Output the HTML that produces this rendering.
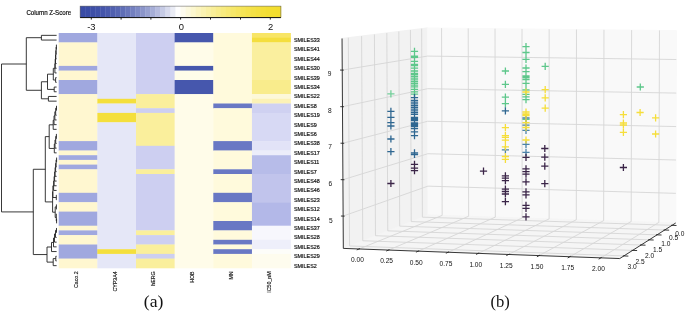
<!DOCTYPE html>
<html><head><meta charset="utf-8"><style>
html,body{margin:0;padding:0;background:#fff;}
body{width:685px;height:311px;overflow:hidden;position:relative;font-family:"Liberation Sans",sans-serif;}
</style></head><body>
<svg width="685" height="311" viewBox="0 0 685 311" style="position:absolute;left:0;top:0">
<rect x="58.7" y="33" width="38.95" height="9.7" fill="#a0a8df"/>
<rect x="58.7" y="42.4" width="38.95" height="23.8" fill="#fff7d0"/>
<rect x="58.7" y="65.9" width="38.95" height="5" fill="#a0a8df"/>
<rect x="58.7" y="70.6" width="38.95" height="9.7" fill="#fff7d0"/>
<rect x="58.7" y="80" width="38.95" height="14.4" fill="#a0a8df"/>
<rect x="58.7" y="94.1" width="38.95" height="47.3" fill="#fff7d0"/>
<rect x="58.7" y="141.1" width="38.95" height="9.7" fill="#a0a8df"/>
<rect x="58.7" y="150.5" width="38.95" height="5" fill="#fff7d0"/>
<rect x="58.7" y="155.2" width="38.95" height="5" fill="#a0a8df"/>
<rect x="58.7" y="159.9" width="38.95" height="5" fill="#fff7d0"/>
<rect x="58.7" y="164.6" width="38.95" height="5" fill="#a0a8df"/>
<rect x="58.7" y="169.3" width="38.95" height="23.8" fill="#fff7d0"/>
<rect x="58.7" y="192.8" width="38.95" height="9.7" fill="#a0a8df"/>
<rect x="58.7" y="202.2" width="38.95" height="9.7" fill="#fff7d0"/>
<rect x="58.7" y="211.6" width="38.95" height="14.4" fill="#a0a8df"/>
<rect x="58.7" y="225.7" width="38.95" height="5" fill="#fff7d0"/>
<rect x="58.7" y="230.4" width="38.95" height="5" fill="#a0a8df"/>
<rect x="58.7" y="235.1" width="38.95" height="9.7" fill="#fff7d0"/>
<rect x="58.7" y="244.5" width="38.95" height="14.4" fill="#a0a8df"/>
<rect x="58.7" y="258.6" width="38.95" height="9.7" fill="#fff7d0"/>
<rect x="97.35" y="33" width="38.95" height="66.1" fill="#e5e7f7"/>
<rect x="97.35" y="98.8" width="38.95" height="5" fill="#f4df3c"/>
<rect x="97.35" y="103.5" width="38.95" height="9.7" fill="#e5e7f7"/>
<rect x="97.35" y="112.9" width="38.95" height="9.7" fill="#f4df3c"/>
<rect x="97.35" y="122.3" width="38.95" height="127.2" fill="#e5e7f7"/>
<rect x="97.35" y="249.2" width="38.95" height="5" fill="#f4df3c"/>
<rect x="97.35" y="253.9" width="38.95" height="14.4" fill="#e5e7f7"/>
<rect x="136" y="33" width="38.95" height="61.4" fill="#cdcff1"/>
<rect x="136" y="94.1" width="38.95" height="14.4" fill="#faef9c"/>
<rect x="136" y="108.2" width="38.95" height="5" fill="#cdcff1"/>
<rect x="136" y="112.9" width="38.95" height="33.2" fill="#faef9c"/>
<rect x="136" y="145.8" width="38.95" height="23.8" fill="#cdcff1"/>
<rect x="136" y="169.3" width="38.95" height="5" fill="#faef9c"/>
<rect x="136" y="174" width="38.95" height="56.7" fill="#cdcff1"/>
<rect x="136" y="230.4" width="38.95" height="5" fill="#faef9c"/>
<rect x="136" y="235.1" width="38.95" height="9.7" fill="#cdcff1"/>
<rect x="136" y="244.5" width="38.95" height="9.7" fill="#faef9c"/>
<rect x="136" y="253.9" width="38.95" height="5" fill="#cdcff1"/>
<rect x="136" y="258.6" width="38.95" height="9.7" fill="#faef9c"/>
<rect x="174.65" y="33" width="38.95" height="9.7" fill="#4657ad"/>
<rect x="174.65" y="42.4" width="38.95" height="23.8" fill="#fffce9"/>
<rect x="174.65" y="65.9" width="38.95" height="5" fill="#4657ad"/>
<rect x="174.65" y="70.6" width="38.95" height="9.7" fill="#fffce9"/>
<rect x="174.65" y="80" width="38.95" height="14.4" fill="#4657ad"/>
<rect x="174.65" y="94.1" width="38.95" height="174.2" fill="#fffce9"/>
<rect x="213.3" y="33" width="38.95" height="70.8" fill="#fffadc"/>
<rect x="213.3" y="103.5" width="38.95" height="5" fill="#6978c4"/>
<rect x="213.3" y="108.2" width="38.95" height="33.2" fill="#fffadc"/>
<rect x="213.3" y="141.1" width="38.95" height="9.7" fill="#6978c4"/>
<rect x="213.3" y="150.5" width="38.95" height="19.1" fill="#fffadc"/>
<rect x="213.3" y="169.3" width="38.95" height="5" fill="#6978c4"/>
<rect x="213.3" y="174" width="38.95" height="19.1" fill="#fffadc"/>
<rect x="213.3" y="192.8" width="38.95" height="9.7" fill="#6978c4"/>
<rect x="213.3" y="202.2" width="38.95" height="19.1" fill="#fffadc"/>
<rect x="213.3" y="221" width="38.95" height="9.7" fill="#6978c4"/>
<rect x="213.3" y="230.4" width="38.95" height="9.7" fill="#fffadc"/>
<rect x="213.3" y="239.8" width="38.95" height="5" fill="#6978c4"/>
<rect x="213.3" y="244.5" width="38.95" height="5" fill="#fffadc"/>
<rect x="213.3" y="249.2" width="38.95" height="5" fill="#6978c4"/>
<rect x="213.3" y="253.9" width="38.95" height="14.4" fill="#fffadc"/>
<rect x="251.95" y="33" width="38.95" height="5" fill="#f8e566"/>
<rect x="251.95" y="37.7" width="38.95" height="5" fill="#f4de3e"/>
<rect x="251.95" y="42.4" width="38.95" height="37.9" fill="#faef9e"/>
<rect x="251.95" y="80" width="38.95" height="14.4" fill="#f9ec8c"/>
<rect x="251.95" y="94.1" width="38.95" height="5" fill="#fdf8d9"/>
<rect x="251.95" y="98.8" width="38.95" height="5" fill="#fcf2b6"/>
<rect x="251.95" y="103.5" width="38.95" height="9.7" fill="#cfd1f1"/>
<rect x="251.95" y="112.9" width="38.95" height="28.5" fill="#d7d9f4"/>
<rect x="251.95" y="141.1" width="38.95" height="9.7" fill="#e2e3f7"/>
<rect x="251.95" y="150.5" width="38.95" height="5" fill="#ecedfa"/>
<rect x="251.95" y="155.2" width="38.95" height="19.1" fill="#b7bce9"/>
<rect x="251.95" y="174" width="38.95" height="28.5" fill="#c1c4ec"/>
<rect x="251.95" y="202.2" width="38.95" height="23.8" fill="#b3b8e8"/>
<rect x="251.95" y="225.7" width="38.95" height="14.4" fill="#f7f7fd"/>
<rect x="251.95" y="239.8" width="38.95" height="9.7" fill="#eeeffa"/>
<rect x="251.95" y="249.2" width="38.95" height="5" fill="#fdfdf9"/>
<rect x="251.95" y="253.9" width="38.95" height="14.4" fill="#fefcee"/>
</svg>
<svg width="685" height="311" style="position:absolute;left:0;top:0"><path d="M41.4 35.35L41.4 40.05M41.4 35.35L56.6 35.35M41.4 40.05L56.6 40.05M56.4 44.75L56.4 49.45M56.4 44.75L56.6 44.75M56.4 49.45L56.6 49.45M56.1 47.1L56.1 54.15M56.1 47.1L56.4 47.1M56.1 54.15L56.6 54.15M55.8 50.62L55.8 58.85M55.8 50.62L56.1 50.62M55.8 58.85L56.6 58.85M55.5 54.74L55.5 63.55M55.5 54.74L55.8 54.74M55.5 63.55L56.6 63.55M55.2 59.14L55.2 68.25M55.2 59.14L55.5 59.14M55.2 68.25L56.6 68.25M54.9 63.7L54.9 72.95M54.9 63.7L55.2 63.7M54.9 72.95L56.6 72.95M55.6 77.65L55.6 82.35M55.6 77.65L56.6 77.65M55.6 82.35L56.6 82.35M53.3 68.32L53.3 80M53.3 68.32L54.9 68.32M53.3 80L55.6 80M54.2 87.05L54.2 91.75M54.2 87.05L56.6 87.05M54.2 91.75L56.6 91.75M47.5 74.16L47.5 89.4M47.5 74.16L53.3 74.16M47.5 89.4L54.2 89.4M48.4 96.45L48.4 101.15M48.4 96.45L56.6 96.45M48.4 101.15L56.6 101.15M41.4 81.78L41.4 98.8M41.4 81.78L47.5 81.78M41.4 98.8L48.4 98.8M26.3 37.7L26.3 90.29M26.3 37.7L41.4 37.7M26.3 90.29L41.4 90.29M56.5 105.85L56.5 110.55M56.5 105.85L56.6 105.85M56.5 110.55L56.6 110.55M55.67 108.2L55.67 115.25M55.67 108.2L56.5 108.2M55.67 115.25L56.6 115.25M54.85 111.72L54.85 119.95M54.85 111.72L55.67 111.72M54.85 119.95L56.6 119.95M54.03 115.84L54.03 124.65M54.03 115.84L54.85 115.84M54.03 124.65L56.6 124.65M53.2 120.24L53.2 129.35M53.2 120.24L54.03 120.24M53.2 129.35L56.6 129.35M56.4 134.05L56.4 138.75M56.4 134.05L56.6 134.05M56.4 138.75L56.6 138.75M55.7 136.4L55.7 143.45M55.7 136.4L56.4 136.4M55.7 143.45L56.6 143.45M55 139.93L55 148.15M55 139.93L55.7 139.93M55 148.15L56.6 148.15M54.3 144.04L54.3 152.85M54.3 144.04L55 144.04M54.3 152.85L56.6 152.85M49.2 124.8L49.2 148.44M49.2 124.8L53.2 124.8M49.2 148.44L54.3 148.44M56.6 157.55L56.6 162.25M56.6 157.55L56.6 157.55M56.6 162.25L56.6 162.25M56.1 159.9L56.1 166.95M56.1 159.9L56.6 159.9M56.1 166.95L56.6 166.95M55.6 163.43L55.6 171.65M55.6 163.43L56.1 163.43M55.6 171.65L56.6 171.65M55.1 167.54L55.1 176.35M55.1 167.54L55.6 167.54M55.1 176.35L56.6 176.35M54.6 171.94L54.6 181.05M54.6 171.94L55.1 171.94M54.6 181.05L56.6 181.05M54.1 176.5L54.1 185.75M54.1 176.5L54.6 176.5M54.1 185.75L56.6 185.75M53.6 181.12L53.6 190.45M53.6 181.12L54.1 181.12M53.6 190.45L56.6 190.45M56.3 195.15L56.3 199.85M56.3 195.15L56.6 195.15M56.3 199.85L56.6 199.85M52.9 185.79L52.9 197.5M52.9 185.79L53.6 185.79M52.9 197.5L56.3 197.5M56.4 204.55L56.4 209.25M56.4 204.55L56.6 204.55M56.4 209.25L56.6 209.25M56.6 218.65L56.6 223.35M56.6 218.65L56.6 218.65M56.6 223.35L56.6 223.35M56.3 213.95L56.3 221M56.3 213.95L56.6 213.95M56.3 221L56.6 221M55.2 206.9L55.2 217.48M55.2 206.9L56.4 206.9M55.2 217.48L56.3 217.48M52.6 191.64L52.6 212.19M52.6 191.64L52.9 191.64M52.6 212.19L55.2 212.19M45.3 136.62L45.3 201.92M45.3 136.62L49.2 136.62M45.3 201.92L52.6 201.92M56.5 228.05L56.5 232.75M56.5 228.05L56.6 228.05M56.5 232.75L56.6 232.75M55.5 230.4L55.5 237.45M55.5 230.4L56.5 230.4M55.5 237.45L56.6 237.45M54.5 233.93L54.5 242.15M54.5 233.93L55.5 233.93M54.5 242.15L56.6 242.15M53.5 238.04L53.5 246.85M53.5 238.04L54.5 238.04M53.5 246.85L56.6 246.85M51.5 242.44L51.5 251.55M51.5 242.44L53.5 242.44M51.5 251.55L56.6 251.55M55.8 256.25L55.8 260.95M55.8 256.25L56.6 256.25M55.8 260.95L56.6 260.95M53.2 258.6L53.2 265.65M53.2 258.6L55.8 258.6M53.2 265.65L56.6 265.65M47 247L47 262.12M47 247L51.5 247M47 262.12L53.2 262.12M33.3 169.27L33.3 254.56M33.3 169.27L45.3 169.27M33.3 254.56L47 254.56M1.5 64L1.5 211.91M1.5 64L26.3 64M1.5 211.91L33.3 211.91" stroke="#222" stroke-width="0.9" fill="none"/></svg>
<svg width="685" height="311" style="position:absolute;left:0;top:0">
<rect x="80.1" y="6.1" width="5.32" height="11.5" fill="rgb(58, 76, 166)"/>
<rect x="85.12" y="6.1" width="5.32" height="11.5" fill="rgb(59, 77, 167)"/>
<rect x="90.14" y="6.1" width="5.32" height="11.5" fill="rgb(61, 79, 167)"/>
<rect x="95.16" y="6.1" width="5.32" height="11.5" fill="rgb(64, 82, 169)"/>
<rect x="100.18" y="6.1" width="5.32" height="11.5" fill="rgb(68, 85, 171)"/>
<rect x="105.2" y="6.1" width="5.32" height="11.5" fill="rgb(74, 90, 173)"/>
<rect x="110.22" y="6.1" width="5.32" height="11.5" fill="rgb(80, 96, 176)"/>
<rect x="115.24" y="6.1" width="5.32" height="11.5" fill="rgb(87, 102, 179)"/>
<rect x="120.26" y="6.1" width="5.32" height="11.5" fill="rgb(95, 110, 183)"/>
<rect x="125.28" y="6.1" width="5.32" height="11.5" fill="rgb(105, 118, 187)"/>
<rect x="130.3" y="6.1" width="5.32" height="11.5" fill="rgb(115, 128, 192)"/>
<rect x="135.32" y="6.1" width="5.32" height="11.5" fill="rgb(126, 138, 197)"/>
<rect x="140.34" y="6.1" width="5.32" height="11.5" fill="rgb(139, 149, 202)"/>
<rect x="145.36" y="6.1" width="5.32" height="11.5" fill="rgb(152, 161, 208)"/>
<rect x="150.38" y="6.1" width="5.32" height="11.5" fill="rgb(166, 174, 215)"/>
<rect x="155.4" y="6.1" width="5.32" height="11.5" fill="rgb(182, 188, 222)"/>
<rect x="160.42" y="6.1" width="5.32" height="11.5" fill="rgb(198, 203, 229)"/>
<rect x="165.44" y="6.1" width="5.32" height="11.5" fill="rgb(216, 219, 237)"/>
<rect x="170.46" y="6.1" width="5.32" height="11.5" fill="rgb(234, 236, 245)"/>
<rect x="175.48" y="6.1" width="5.32" height="11.5" fill="rgb(254, 254, 254)"/>
<rect x="180.5" y="6.1" width="5.32" height="11.5" fill="rgb(253, 251, 238)"/>
<rect x="185.52" y="6.1" width="5.32" height="11.5" fill="rgb(252, 249, 222)"/>
<rect x="190.54" y="6.1" width="5.32" height="11.5" fill="rgb(252, 247, 207)"/>
<rect x="195.56" y="6.1" width="5.32" height="11.5" fill="rgb(251, 244, 192)"/>
<rect x="200.58" y="6.1" width="5.32" height="11.5" fill="rgb(250, 242, 178)"/>
<rect x="205.6" y="6.1" width="5.32" height="11.5" fill="rgb(249, 240, 165)"/>
<rect x="210.62" y="6.1" width="5.32" height="11.5" fill="rgb(249, 238, 152)"/>
<rect x="215.64" y="6.1" width="5.32" height="11.5" fill="rgb(248, 236, 139)"/>
<rect x="220.66" y="6.1" width="5.32" height="11.5" fill="rgb(247, 234, 127)"/>
<rect x="225.68" y="6.1" width="5.32" height="11.5" fill="rgb(247, 232, 116)"/>
<rect x="230.7" y="6.1" width="5.32" height="11.5" fill="rgb(246, 231, 105)"/>
<rect x="235.72" y="6.1" width="5.32" height="11.5" fill="rgb(246, 229, 95)"/>
<rect x="240.74" y="6.1" width="5.32" height="11.5" fill="rgb(245, 228, 86)"/>
<rect x="245.76" y="6.1" width="5.32" height="11.5" fill="rgb(245, 226, 77)"/>
<rect x="250.78" y="6.1" width="5.32" height="11.5" fill="rgb(244, 225, 70)"/>
<rect x="255.8" y="6.1" width="5.32" height="11.5" fill="rgb(244, 224, 63)"/>
<rect x="260.82" y="6.1" width="5.32" height="11.5" fill="rgb(244, 223, 56)"/>
<rect x="265.84" y="6.1" width="5.32" height="11.5" fill="rgb(243, 222, 51)"/>
<rect x="270.86" y="6.1" width="5.32" height="11.5" fill="rgb(243, 222, 47)"/>
<rect x="275.88" y="6.1" width="5.32" height="11.5" fill="rgb(243, 221, 45)"/>
<rect x="80.1" y="6.1" width="200.8" height="11.5" fill="none" stroke="#555" stroke-width="0.5"/>
<line x1="80.1" y1="17.6" x2="280.9" y2="17.6" stroke="#111" stroke-width="1"/>
<line x1="91.3" y1="17.6" x2="91.3" y2="19.6" stroke="#111" stroke-width="0.9"/>
<line x1="121.1" y1="17.6" x2="121.1" y2="19.6" stroke="#111" stroke-width="0.9"/>
<line x1="150.9" y1="17.6" x2="150.9" y2="19.6" stroke="#111" stroke-width="0.9"/>
<line x1="180.6" y1="17.6" x2="180.6" y2="19.6" stroke="#111" stroke-width="0.9"/>
<line x1="210.5" y1="17.6" x2="210.5" y2="19.6" stroke="#111" stroke-width="0.9"/>
<line x1="240.5" y1="17.6" x2="240.5" y2="19.6" stroke="#111" stroke-width="0.9"/>
<line x1="270.3" y1="17.6" x2="270.3" y2="19.6" stroke="#111" stroke-width="0.9"/>
</svg>
<svg width="685" height="311" style="position:absolute;left:0;top:0">
<polygon points="428.03,214.94 343.33,248.4 342.05,38.48 427.35,27.96" fill="#f2f2f2" stroke="#f2f2f2" stroke-width="1"/>
<polygon points="428.03,214.94 675.73,222.98 676.46,30.57 427.35,27.96" fill="#f9f9f9" stroke="#f9f9f9" stroke-width="1"/>
<polygon points="428.03,214.94 675.73,222.98 619.73,258.56 343.33,248.4" fill="#f5f5f5" stroke="#f5f5f5" stroke-width="1"/>
<line x1="442.16" y1="215.4" x2="359.05" y2="248.98" stroke="#d6d6d6" stroke-width="0.9"/>
<line x1="442.16" y1="215.4" x2="441.57" y2="28.1" stroke="#d6d6d6" stroke-width="0.9"/>
<line x1="468.66" y1="216.26" x2="388.54" y2="250.06" stroke="#d6d6d6" stroke-width="0.9"/>
<line x1="468.66" y1="216.26" x2="468.21" y2="28.38" stroke="#d6d6d6" stroke-width="0.9"/>
<line x1="495.32" y1="217.13" x2="418.23" y2="251.16" stroke="#d6d6d6" stroke-width="0.9"/>
<line x1="495.32" y1="217.13" x2="495.02" y2="28.67" stroke="#d6d6d6" stroke-width="0.9"/>
<line x1="522.15" y1="218" x2="448.12" y2="252.25" stroke="#d6d6d6" stroke-width="0.9"/>
<line x1="522.15" y1="218" x2="522" y2="28.95" stroke="#d6d6d6" stroke-width="0.9"/>
<line x1="549.14" y1="218.87" x2="478.23" y2="253.36" stroke="#d6d6d6" stroke-width="0.9"/>
<line x1="549.14" y1="218.87" x2="549.15" y2="29.23" stroke="#d6d6d6" stroke-width="0.9"/>
<line x1="576.31" y1="219.75" x2="508.56" y2="254.47" stroke="#d6d6d6" stroke-width="0.9"/>
<line x1="576.31" y1="219.75" x2="576.47" y2="29.52" stroke="#d6d6d6" stroke-width="0.9"/>
<line x1="603.65" y1="220.64" x2="539.09" y2="255.6" stroke="#d6d6d6" stroke-width="0.9"/>
<line x1="603.65" y1="220.64" x2="603.96" y2="29.81" stroke="#d6d6d6" stroke-width="0.9"/>
<line x1="631.16" y1="221.53" x2="569.85" y2="256.72" stroke="#d6d6d6" stroke-width="0.9"/>
<line x1="631.16" y1="221.53" x2="631.63" y2="30.1" stroke="#d6d6d6" stroke-width="0.9"/>
<line x1="658.85" y1="222.43" x2="600.83" y2="257.86" stroke="#d6d6d6" stroke-width="0.9"/>
<line x1="658.85" y1="222.43" x2="659.48" y2="30.39" stroke="#d6d6d6" stroke-width="0.9"/>
<line x1="422.38" y1="217.17" x2="672.01" y2="225.34" stroke="#d6d6d6" stroke-width="0.9"/>
<line x1="422.38" y1="217.17" x2="421.67" y2="28.66" stroke="#d6d6d6" stroke-width="0.9"/>
<line x1="411.22" y1="221.58" x2="664.65" y2="230.02" stroke="#d6d6d6" stroke-width="0.9"/>
<line x1="411.22" y1="221.58" x2="410.43" y2="30.04" stroke="#d6d6d6" stroke-width="0.9"/>
<line x1="399.69" y1="226.14" x2="657.04" y2="234.85" stroke="#d6d6d6" stroke-width="0.9"/>
<line x1="399.69" y1="226.14" x2="398.83" y2="31.47" stroke="#d6d6d6" stroke-width="0.9"/>
<line x1="387.78" y1="230.84" x2="649.17" y2="239.85" stroke="#d6d6d6" stroke-width="0.9"/>
<line x1="387.78" y1="230.84" x2="386.84" y2="32.95" stroke="#d6d6d6" stroke-width="0.9"/>
<line x1="375.47" y1="235.71" x2="641.03" y2="245.03" stroke="#d6d6d6" stroke-width="0.9"/>
<line x1="375.47" y1="235.71" x2="374.43" y2="34.48" stroke="#d6d6d6" stroke-width="0.9"/>
<line x1="362.74" y1="240.74" x2="632.6" y2="250.38" stroke="#d6d6d6" stroke-width="0.9"/>
<line x1="362.74" y1="240.74" x2="361.6" y2="36.07" stroke="#d6d6d6" stroke-width="0.9"/>
<line x1="349.56" y1="245.94" x2="623.86" y2="255.93" stroke="#d6d6d6" stroke-width="0.9"/>
<line x1="349.56" y1="245.94" x2="348.32" y2="37.71" stroke="#d6d6d6" stroke-width="0.9"/>
<line x1="427.92" y1="186.15" x2="343.14" y2="216.09" stroke="#d6d6d6" stroke-width="0.9"/>
<line x1="427.92" y1="186.15" x2="675.85" y2="193.35" stroke="#d6d6d6" stroke-width="0.9"/>
<line x1="427.81" y1="153.73" x2="342.91" y2="179.71" stroke="#d6d6d6" stroke-width="0.9"/>
<line x1="427.81" y1="153.73" x2="675.97" y2="159.99" stroke="#d6d6d6" stroke-width="0.9"/>
<line x1="427.69" y1="121.25" x2="342.69" y2="143.25" stroke="#d6d6d6" stroke-width="0.9"/>
<line x1="427.69" y1="121.25" x2="676.1" y2="126.57" stroke="#d6d6d6" stroke-width="0.9"/>
<line x1="427.57" y1="88.7" x2="342.46" y2="106.71" stroke="#d6d6d6" stroke-width="0.9"/>
<line x1="427.57" y1="88.7" x2="676.23" y2="93.08" stroke="#d6d6d6" stroke-width="0.9"/>
<line x1="427.45" y1="56.09" x2="342.24" y2="70.09" stroke="#d6d6d6" stroke-width="0.9"/>
<line x1="427.45" y1="56.09" x2="676.35" y2="59.52" stroke="#d6d6d6" stroke-width="0.9"/>
<line x1="343.33" y1="248.4" x2="619.73" y2="258.56" stroke="#222" stroke-width="0.9"/>
<line x1="619.73" y1="258.56" x2="675.73" y2="222.98" stroke="#222" stroke-width="0.9"/>
<line x1="343.33" y1="248.4" x2="342.05" y2="38.48" stroke="#222" stroke-width="0.9"/>
<line x1="359.98" y1="248.61" x2="356.73" y2="249.92" stroke="#222" stroke-width="0.9"/>
<line x1="389.46" y1="249.68" x2="386.23" y2="251.04" stroke="#222" stroke-width="0.9"/>
<line x1="419.14" y1="250.75" x2="415.94" y2="252.16" stroke="#222" stroke-width="0.9"/>
<line x1="449.03" y1="251.83" x2="445.86" y2="253.3" stroke="#222" stroke-width="0.9"/>
<line x1="479.13" y1="252.92" x2="475.99" y2="254.45" stroke="#222" stroke-width="0.9"/>
<line x1="509.45" y1="254.02" x2="506.33" y2="255.61" stroke="#222" stroke-width="0.9"/>
<line x1="539.97" y1="255.12" x2="536.9" y2="256.79" stroke="#222" stroke-width="0.9"/>
<line x1="570.72" y1="256.23" x2="567.68" y2="257.97" stroke="#222" stroke-width="0.9"/>
<line x1="601.68" y1="257.34" x2="598.69" y2="259.17" stroke="#222" stroke-width="0.9"/>
<line x1="671.01" y1="225.31" x2="676.51" y2="225.49" stroke="#222" stroke-width="0.9"/>
<line x1="663.65" y1="229.99" x2="669.15" y2="230.17" stroke="#222" stroke-width="0.9"/>
<line x1="656.04" y1="234.82" x2="661.54" y2="235.01" stroke="#222" stroke-width="0.9"/>
<line x1="648.18" y1="239.82" x2="653.67" y2="240.01" stroke="#222" stroke-width="0.9"/>
<line x1="640.03" y1="244.99" x2="645.53" y2="245.18" stroke="#222" stroke-width="0.9"/>
<line x1="631.6" y1="250.35" x2="637.1" y2="250.54" stroke="#222" stroke-width="0.9"/>
<line x1="622.86" y1="255.9" x2="628.36" y2="256.1" stroke="#222" stroke-width="0.9"/>
<line x1="344.63" y1="216.14" x2="340.94" y2="216.02" stroke="#222" stroke-width="0.9"/>
<line x1="344.41" y1="179.75" x2="340.71" y2="179.65" stroke="#222" stroke-width="0.9"/>
<line x1="344.19" y1="143.29" x2="340.49" y2="143.2" stroke="#222" stroke-width="0.9"/>
<line x1="343.96" y1="106.74" x2="340.27" y2="106.66" stroke="#222" stroke-width="0.9"/>
<line x1="343.74" y1="70.11" x2="340.04" y2="70.05" stroke="#222" stroke-width="0.9"/>
</svg>
<svg width="685" height="311" style="position:absolute;left:0;top:0">
<path d="M387.3 93.9h7.2M390.9 90.3v7.2" stroke="#74cf9b" stroke-width="1.3" fill="none"/>
<path d="M410.9 51.3h7.2M414.5 47.7v7.2M410.9 56.1h7.2M414.5 52.5v7.2M410.9 57.3h7.2M414.5 53.7v7.2M410.9 61.4h7.2M414.5 57.8v7.2M410.9 64.3h7.2M414.5 60.7v7.2M410.9 65.7h7.2M414.5 62.1v7.2M410.9 68.1h7.2M414.5 64.5v7.2M410.9 71h7.2M414.5 67.4v7.2M410.9 73.4h7.2M414.5 69.8v7.2M410.9 74.6h7.2M414.5 71v7.2M410.9 76.35h7.2M414.5 72.75v7.2M410.9 78.1h7.2M414.5 74.5v7.2M410.9 79.85h7.2M414.5 76.25v7.2M410.9 81.6h7.2M414.5 78v7.2M410.9 83.35h7.2M414.5 79.75v7.2M410.9 85.1h7.2M414.5 81.5v7.2M410.9 86.85h7.2M414.5 83.25v7.2M410.9 89.4h7.2M414.5 85.8v7.2M410.9 91.8h7.2M414.5 88.2v7.2M410.9 94.2h7.2M414.5 90.6v7.2M501.8 71h7.2M505.4 67.4v7.2M501.8 84.4h7.2M505.4 80.8v7.2M501.8 97.2h7.2M505.4 93.6v7.2M501.8 103.6h7.2M505.4 100v7.2M522.4 46.6h7.2M526 43v7.2M522.4 52.5h7.2M526 48.9v7.2M522.4 59.3h7.2M526 55.7v7.2M522.4 68h7.2M526 64.4v7.2M522.4 71.6h7.2M526 68v7.2M522.4 76h7.2M526 72.4v7.2M522.4 77.5h7.2M526 73.9v7.2M522.4 79.5h7.2M526 75.9v7.2M522.4 83.3h7.2M526 79.7v7.2M522.4 89.9h7.2M526 86.3v7.2M522.4 94.3h7.2M526 90.7v7.2M522.4 96.8h7.2M526 93.2v7.2M522.4 99.6h7.2M526 96v7.2M522.4 119.3h7.2M526 115.7v7.2M541.6 66.4h7.2M545.2 62.8v7.2M636.7 87h7.2M640.3 83.4v7.2" stroke="#5ec78b" stroke-width="1.3" fill="none"/>
<path d="M387.3 111.4h7.2M390.9 107.8v7.2M387.3 117.4h7.2M390.9 113.8v7.2M387.3 122.7h7.2M390.9 119.1v7.2M387.3 126h7.2M390.9 122.4v7.2M387.3 139h7.2M390.9 135.4v7.2M387.3 151.7h7.2M390.9 148.1v7.2M410.9 97.6h7.2M414.5 94v7.2M410.9 100.3h7.2M414.5 96.7v7.2M410.9 102.05h7.2M414.5 98.45v7.2M410.9 103.8h7.2M414.5 100.2v7.2M410.9 105.55h7.2M414.5 101.95v7.2M410.9 107.3h7.2M414.5 103.7v7.2M410.9 109.05h7.2M414.5 105.45v7.2M410.9 110.8h7.2M414.5 107.2v7.2M410.9 112.55h7.2M414.5 108.95v7.2M410.9 114.3h7.2M414.5 110.7v7.2M410.9 117.5h7.2M414.5 113.9v7.2M410.9 118.5h7.2M414.5 114.9v7.2M410.9 119.5h7.2M414.5 115.9v7.2M410.9 120.5h7.2M414.5 116.9v7.2M410.9 123h7.2M414.5 119.4v7.2M410.9 124h7.2M414.5 120.4v7.2M410.9 125h7.2M414.5 121.4v7.2M410.9 126.5h7.2M414.5 122.9v7.2M410.9 128.7h7.2M414.5 125.1v7.2M410.9 131.8h7.2M414.5 128.2v7.2M410.9 135.6h7.2M414.5 132v7.2M410.9 152.8h7.2M414.5 149.2v7.2M410.9 154.5h7.2M414.5 150.9v7.2M501.8 110.8h7.2M505.4 107.2v7.2" stroke="#2f6791" stroke-width="1.3" fill="none"/>
<path d="M501.8 149.8h7.2M505.4 146.2v7.2M522.4 118h7.2M526 114.4v7.2M522.4 125.1h7.2M526 121.5v7.2M522.4 130.4h7.2M526 126.8v7.2M522.4 144.3h7.2M526 140.7v7.2M522.4 152.3h7.2M526 148.7v7.2" stroke="#4a82a8" stroke-width="1.3" fill="none"/>
<path d="M501.8 127.7h7.2M505.4 124.1v7.2M501.8 135.6h7.2M505.4 132v7.2M501.8 137.3h7.2M505.4 133.7v7.2M501.8 140.2h7.2M505.4 136.6v7.2M501.8 146.9h7.2M505.4 143.3v7.2M501.8 156.5h7.2M505.4 152.9v7.2M501.8 159.4h7.2M505.4 155.8v7.2M522.4 92h7.2M526 88.4v7.2M522.4 112h7.2M526 108.4v7.2M522.4 114h7.2M526 110.4v7.2M522.4 115.5h7.2M526 111.9v7.2M522.4 122.7h7.2M526 119.1v7.2M522.4 127.5h7.2M526 123.9v7.2M522.4 140h7.2M526 136.4v7.2M541.6 89.6h7.2M545.2 86v7.2M541.6 97.8h7.2M545.2 94.2v7.2M541.6 108.1h7.2M545.2 104.5v7.2M619.8 114.6h7.2M623.4 111v7.2M619.8 123h7.2M623.4 119.4v7.2M619.8 125h7.2M623.4 121.4v7.2M619.8 132.4h7.2M623.4 128.8v7.2M636.5 112.5h7.2M640.1 108.9v7.2M652 117.9h7.2M655.6 114.3v7.2M652 134h7.2M655.6 130.4v7.2" stroke="#f6de3a" stroke-width="1.3" fill="none"/>
<path d="M387.3 183.5h7.2M390.9 179.9v7.2M410.9 164.4h7.2M414.5 160.8v7.2M410.9 168.2h7.2M414.5 164.6v7.2M410.9 170.7h7.2M414.5 167.1v7.2M501.8 175.8h7.2M505.4 172.2v7.2M501.8 178.1h7.2M505.4 174.5v7.2M501.8 180.6h7.2M505.4 177v7.2M501.8 189.2h7.2M505.4 185.6v7.2M501.8 191.5h7.2M505.4 187.9v7.2M501.8 194h7.2M505.4 190.4v7.2M501.8 201.7h7.2M505.4 198.1v7.2M522.4 157.4h7.2M526 153.8v7.2M522.4 168.9h7.2M526 165.3v7.2M522.4 171.7h7.2M526 168.1v7.2M522.4 174.2h7.2M526 170.6v7.2M522.4 181.9h7.2M526 178.3v7.2M522.4 191.9h7.2M526 188.3v7.2M522.4 194.8h7.2M526 191.2v7.2M522.4 205.4h7.2M526 201.8v7.2M522.4 208.3h7.2M526 204.7v7.2M522.4 216.9h7.2M526 213.3v7.2M541.2 148.5h7.2M544.8 144.9v7.2M541.2 157.1h7.2M544.8 153.5v7.2M541.2 166.1h7.2M544.8 162.5v7.2M541.2 183.7h7.2M544.8 180.1v7.2M619.8 167.5h7.2M623.4 163.9v7.2M479.9 171.2h7.2M483.5 167.6v7.2" stroke="#3b2548" stroke-width="1.3" fill="none"/>
</svg>
<svg width="685" height="311" style="position:absolute;left:0;top:0;will-change:transform" font-family="Liberation Sans, sans-serif"><text x="294" y="41.95" font-size="5.4" text-anchor="start" fill="#111" stroke="#111" stroke-width="0.18">SMILES33</text>
<text x="294" y="51.35" font-size="5.4" text-anchor="start" fill="#111" stroke="#111" stroke-width="0.18">SMILES41</text>
<text x="294" y="60.75" font-size="5.4" text-anchor="start" fill="#111" stroke="#111" stroke-width="0.18">SMILES44</text>
<text x="294" y="70.15" font-size="5.4" text-anchor="start" fill="#111" stroke="#111" stroke-width="0.18">SMILES30</text>
<text x="294" y="79.55" font-size="5.4" text-anchor="start" fill="#111" stroke="#111" stroke-width="0.18">SMILES39</text>
<text x="294" y="88.95" font-size="5.4" text-anchor="start" fill="#111" stroke="#111" stroke-width="0.18">SMILES34</text>
<text x="294" y="98.35" font-size="5.4" text-anchor="start" fill="#111" stroke="#111" stroke-width="0.18">SMILES22</text>
<text x="294" y="107.75" font-size="5.4" text-anchor="start" fill="#111" stroke="#111" stroke-width="0.18">SMILES8</text>
<text x="294" y="117.15" font-size="5.4" text-anchor="start" fill="#111" stroke="#111" stroke-width="0.18">SMILES19</text>
<text x="294" y="126.55" font-size="5.4" text-anchor="start" fill="#111" stroke="#111" stroke-width="0.18">SMILES9</text>
<text x="294" y="135.95" font-size="5.4" text-anchor="start" fill="#111" stroke="#111" stroke-width="0.18">SMILES6</text>
<text x="294" y="145.35" font-size="5.4" text-anchor="start" fill="#111" stroke="#111" stroke-width="0.18">SMILES38</text>
<text x="294" y="154.75" font-size="5.4" text-anchor="start" fill="#111" stroke="#111" stroke-width="0.18">SMILES17</text>
<text x="294" y="164.15" font-size="5.4" text-anchor="start" fill="#111" stroke="#111" stroke-width="0.18">SMILES11</text>
<text x="294" y="173.55" font-size="5.4" text-anchor="start" fill="#111" stroke="#111" stroke-width="0.18">SMILES7</text>
<text x="294" y="182.95" font-size="5.4" text-anchor="start" fill="#111" stroke="#111" stroke-width="0.18">SMILES48</text>
<text x="294" y="192.35" font-size="5.4" text-anchor="start" fill="#111" stroke="#111" stroke-width="0.18">SMILES46</text>
<text x="294" y="201.75" font-size="5.4" text-anchor="start" fill="#111" stroke="#111" stroke-width="0.18">SMILES23</text>
<text x="294" y="211.15" font-size="5.4" text-anchor="start" fill="#111" stroke="#111" stroke-width="0.18">SMILES12</text>
<text x="294" y="220.55" font-size="5.4" text-anchor="start" fill="#111" stroke="#111" stroke-width="0.18">SMILES14</text>
<text x="294" y="229.95" font-size="5.4" text-anchor="start" fill="#111" stroke="#111" stroke-width="0.18">SMILES37</text>
<text x="294" y="239.35" font-size="5.4" text-anchor="start" fill="#111" stroke="#111" stroke-width="0.18">SMILES28</text>
<text x="294" y="248.75" font-size="5.4" text-anchor="start" fill="#111" stroke="#111" stroke-width="0.18">SMILES26</text>
<text x="294" y="258.15" font-size="5.4" text-anchor="start" fill="#111" stroke="#111" stroke-width="0.18">SMILES29</text>
<text x="294" y="267.55" font-size="5.4" text-anchor="start" fill="#111" stroke="#111" stroke-width="0.18">SMILES2</text>
<text transform="translate(77.98,271.4) rotate(-90)" font-size="5.25" text-anchor="end" fill="#111" stroke="#111" stroke-width="0.15">Caco.2</text>
<text transform="translate(116.63,271.4) rotate(-90)" font-size="5.25" text-anchor="end" fill="#111" stroke="#111" stroke-width="0.15">CYP3A4</text>
<text transform="translate(155.28,271.4) rotate(-90)" font-size="5.25" text-anchor="end" fill="#111" stroke="#111" stroke-width="0.15">hERG</text>
<text transform="translate(193.93,271.4) rotate(-90)" font-size="5.25" text-anchor="end" fill="#111" stroke="#111" stroke-width="0.15">HOB</text>
<text transform="translate(232.57,271.4) rotate(-90)" font-size="5.25" text-anchor="end" fill="#111" stroke="#111" stroke-width="0.15">MN</text>
<text transform="translate(271.23,271.4) rotate(-90)" font-size="5.25" text-anchor="end" fill="#111" stroke="#111" stroke-width="0.15">IC50_nM</text>
<text x="26.4" y="15" font-size="6.9" text-anchor="start" fill="#111" stroke="#111" stroke-width="0.2" textLength="44.8" lengthAdjust="spacingAndGlyphs">Column Z-Score</text>
<text x="91.3" y="29.6" font-size="9.4" text-anchor="middle" fill="#111">-3</text>
<text x="181.3" y="29.6" font-size="9.4" text-anchor="middle" fill="#111">0</text>
<text x="270.6" y="29.6" font-size="9.4" text-anchor="middle" fill="#111">2</text>
<text x="357.4" y="262.2" font-size="6.6" text-anchor="middle" fill="#111">0.00</text>
<text x="386.6" y="263.4" font-size="6.6" text-anchor="middle" fill="#111">0.25</text>
<text x="416.2" y="264.5" font-size="6.6" text-anchor="middle" fill="#111">0.50</text>
<text x="445.9" y="265.9" font-size="6.6" text-anchor="middle" fill="#111">0.75</text>
<text x="475.8" y="267.3" font-size="6.6" text-anchor="middle" fill="#111">1.00</text>
<text x="506.2" y="268" font-size="6.6" text-anchor="middle" fill="#111">1.25</text>
<text x="537" y="268.9" font-size="6.6" text-anchor="middle" fill="#111">1.50</text>
<text x="567.7" y="269.8" font-size="6.6" text-anchor="middle" fill="#111">1.75</text>
<text x="598.5" y="271.2" font-size="6.6" text-anchor="middle" fill="#111">2.00</text>
<text x="632.2" y="269.1" font-size="6.6" text-anchor="middle" fill="#111">3.0</text>
<text x="640" y="263.9" font-size="6.6" text-anchor="middle" fill="#111">2.5</text>
<text x="649.5" y="257.9" font-size="6.6" text-anchor="middle" fill="#111">2.0</text>
<text x="657.5" y="251.9" font-size="6.6" text-anchor="middle" fill="#111">1.5</text>
<text x="665.9" y="246.1" font-size="6.6" text-anchor="middle" fill="#111">1.0</text>
<text x="673.6" y="240.4" font-size="6.6" text-anchor="middle" fill="#111">0.5</text>
<text x="679.8" y="235.9" font-size="6.6" text-anchor="middle" fill="#111">0.0</text>
<text x="329.6" y="76" font-size="6.6" text-anchor="middle" fill="#111">9</text>
<text x="329.8" y="112.7" font-size="6.6" text-anchor="middle" fill="#111">8</text>
<text x="330.1" y="148.9" font-size="6.6" text-anchor="middle" fill="#111">7</text>
<text x="330.4" y="186.1" font-size="6.6" text-anchor="middle" fill="#111">6</text>
<text x="330.8" y="222.6" font-size="6.6" text-anchor="middle" fill="#111">5</text>
<text x="143.8" y="307.1" font-size="16.5" text-anchor="start" font-family="Liberation Serif, serif" fill="#111" textLength="19.6" lengthAdjust="spacingAndGlyphs">(a)</text>
<text x="490.5" y="307.1" font-size="16.5" text-anchor="start" font-family="Liberation Serif, serif" fill="#111" textLength="19.4" lengthAdjust="spacingAndGlyphs">(b)</text></svg>
</body></html>
